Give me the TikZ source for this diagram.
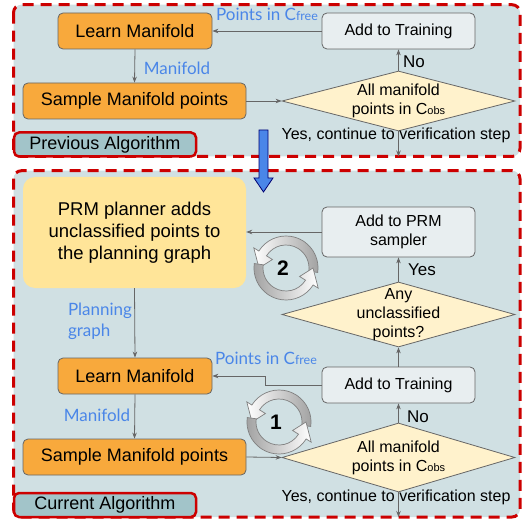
\documentclass[tikz,border=0pt]{standalone}
\usepackage{fontspec}
\setmainfont{Liberation Sans}
\newfontfamily\latofont{Lato}
\usetikzlibrary{arrows.meta,shapes.geometric}

\definecolor{panelbg}{HTML}{D0E0E3}
\definecolor{framered}{HTML}{CC0000}
\definecolor{tagfill}{HTML}{A2C4C9}
\definecolor{stepor}{HTML}{F8A93C}
\definecolor{prmyel}{HTML}{FFE599}
\definecolor{askfill}{HTML}{FFF2CC}
\definecolor{addfill}{HTML}{E8EEF0}
\definecolor{labblue}{HTML}{4A86E8}
\definecolor{lineg}{HTML}{666666}

\tikzset{
  panel/.style={draw=framered, line width=3pt, dash pattern=on 11pt off 7pt,
    fill=panelbg, rounded corners=8pt},
  tag/.style={draw=framered, line width=2.5pt, fill=tagfill, rounded corners=5pt,
    minimum width=182, minimum height=24, inner sep=0pt,
    font=\fontsize{18}{20}\selectfont},
  orangebox/.style={draw=lineg, line width=0.8pt, fill=stepor, rounded corners=5pt,
    inner sep=0pt, font=\fontsize{18}{21}\selectfont},
  addbox/.style={draw=lineg, line width=0.8pt, fill=addfill, rounded corners=5pt,
    inner sep=0pt, minimum width=153, align=center,
    font=\fontsize{16}{19}\selectfont},
  decision/.style={diamond, draw=lineg, line width=0.8pt, fill=askfill,
    inner sep=0pt, minimum width=233},
  asktext/.style={align=center, inner sep=0pt, font=\fontsize{16}{19}\selectfont},
  bluelab/.style={text=labblue, inner sep=0pt, font=\latofont\fontsize{17}{21}\selectfont},
  plainlab/.style={inner sep=0pt, font=\fontsize{16}{19}\selectfont},
  flow/.style={draw=lineg, line width=0.8pt, -{Stealth[length=6pt,width=4.5pt]}},
}

% two curved arrows round a number
\newcommand{\cycleloop}[3]{%
  \begin{scope}[shift={(#1,#2)}]
    \shadedraw[draw=gray, line width=0.7pt, left color=white, right color=gray!75]
      (8:32) arc[start angle=8, end angle=-148, radius=32] -- (-148:38) -- (-180:27)
      -- (-148:16) -- (-148:23) arc[start angle=-148, end angle=8, radius=23] -- cycle;
    \shadedraw[draw=gray, line width=0.7pt, left color=gray!75, right color=white]
      (188:32) arc[start angle=188, end angle=32, radius=32] -- (32:38) -- (0:27)
      -- (32:16) -- (32:23) arc[start angle=32, end angle=188, radius=23] -- cycle;
    \node[font=\bfseries\fontsize{21}{21}\selectfont, inner sep=0pt] (loop#3) at (-3,0) {#3};
  \end{scope}}

\begin{document}
\begin{tikzpicture}[x=1pt,y=-1pt]
  \useasboundingbox (0,0) rectangle (523,519);

  % panels
  \draw[panel] (13.5,4.7) rectangle (520,156.5);
  \draw[panel] (13.5,170.7) rectangle (520,517);
  \node[tag] (prevtag) at (105,144.5) {Previous Algorithm};
  \node[tag] (curtag) at (105,505) {Current Algorithm};

  % previous algorithm
  \node[orangebox, minimum width=154, minimum height=36] (learnA) at (135,31) {Learn Manifold};
  \node[addbox, minimum height=36] (addA) at (398.5,31) {Add to Training};
  \node[orangebox, minimum width=223, minimum height=36] (sampleA) at (134.5,101) {Sample Manifold points};
  \node[decision, minimum height=60] (allA) at (398.5,101) {};
  \node[asktext] (allAtxt) at (allA) {All manifold\\points in C{\fontsize{11}{11}\selectfont obs}};
  \coordinate (exitA) at (398.5,156.5);

  \draw[flow] (addA.west) -- (learnA.east);
  \draw[flow] (learnA.south) -- (sampleA.north);
  \draw[flow] (sampleA.east) -- (allA.west);
  \draw[flow] (allA.north) -- (addA.south);
  \draw[flow] (allA.south) -- (exitA);

  \node[bluelab] (freeA) at (267,14) {Points in C{\fontsize{12.5}{12.5}\selectfont free}};
  \node[bluelab] (maniA) at (177,68) {Manifold};
  \node[plainlab, font=\fontsize{17}{19}\selectfont] (noA) at (414,62) {No};
  \node[plainlab] (yesA) at (396,135) {Yes, continue to verification step};

  % current algorithm
  \node[draw=none, fill=prmyel, rounded corners=12pt, minimum width=223, minimum height=111,
    align=center, font=\fontsize{18.5}{22}\selectfont] (prm) at (134.5,232.5)
    {PRM planner adds\\unclassified points to\\the planning graph};
  \node[addbox, minimum height=50] (addPRM) at (398.5,232) {Add to PRM\\sampler};
  \node[decision, minimum height=65] (anyq) at (398.5,314.5) {};
  \node[asktext] (anyqtxt) at (anyq) {Any\\unclassified\\points?};
  \node[orangebox, minimum width=154, minimum height=36] (learnB) at (135,376) {Learn Manifold};
  \node[addbox, minimum height=36] (addB) at (398.5,385) {Add to Training};
  \node[orangebox, minimum width=223, minimum height=36] (sampleB) at (134.5,457) {Sample Manifold points};
  \node[decision, minimum height=69] (allB) at (398.5,457.5) {};
  \node[asktext] (allBtxt) at (allB) {All manifold\\points in C{\fontsize{11}{11}\selectfont obs}};
  \coordinate (exitB) at (398.5,517);

  \draw[flow] (addPRM.west) -- (prm.east |- addPRM.west);
  \draw[flow] (anyq.north) -- (addPRM.south);
  \draw[flow] (prm.south) -- (learnB.north);
  \draw[flow] (addB.north) -- (anyq.south);
  \draw[flow] (addB.west) -- ++(-56,0) |- (learnB.east);
  \draw[flow] (learnB.south) -- (sampleB.north);
  \draw[flow] (sampleB.east) -- (allB.west);
  \draw[flow] (allB.north) -- (addB.south);
  \draw[flow] (allB.south) -- (exitB);

  \node[bluelab, align=left] (plangr) at (100,321) {Planning\\graph};
  \node[bluelab] (freeB) at (266,358) {Points in C{\fontsize{12.5}{12.5}\selectfont free}};
  \node[bluelab] (maniB) at (97,415) {Manifold};
  \node[plainlab, font=\fontsize{17}{19}\selectfont] (yesB) at (422,270) {Yes};
  \node[plainlab, font=\fontsize{17}{19}\selectfont] (noB) at (418,417) {No};
  \node[plainlab] (yesC) at (396,497) {Yes, continue to verification step};

  \cycleloop{286}{268}{2}
  \cycleloop{279}{422}{1}

  % big arrow between panels
  \filldraw[fill=labblue, draw=black!55!blue, line width=0.8pt]
    (259,130) -- (268,130) -- (268,178) -- (273,178) -- (263.5,192)
    -- (254,178) -- (259,178) -- cycle;
\end{tikzpicture}
\end{document}
